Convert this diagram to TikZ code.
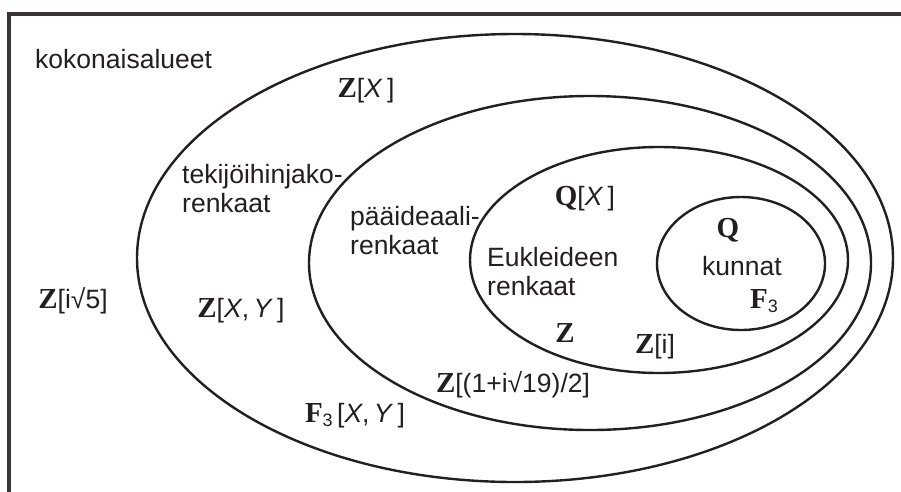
\documentclass[tikz,border=0pt]{standalone}
\usepackage{fontspec}
\setmainfont{Liberation Sans}
\newfontfamily\serifbold{Liberation Serif}
\definecolor{ink}{HTML}{231F20}
\newcommand\Zb{{\serifbold\bfseries\fontsize{29}{30}\selectfont Z}}
\newcommand\Qb{{\serifbold\bfseries\fontsize{29}{30}\selectfont Q}}
\newcommand\Fb{{\serifbold\bfseries\fontsize{29}{30}\selectfont F}}
\newcommand\subthree{\raisebox{-4pt}{\fontsize{18}{20}\selectfont 3}}
\begin{document}
\begin{tikzpicture}[x=1pt,y=-1pt,
  every node/.style={inner sep=0pt,text=ink,font=\fontsize{26.5}{29}\selectfont},
  setline/.style={draw=ink,line width=2.4pt},
  lbl/.style={anchor=base},
  blk/.style={anchor=base west,align=left}]
\useasboundingbox (0,0) rectangle (901,491);
\fill[white] (0,0) rectangle (901,491);
% frame: all integral domains
\draw[draw=ink!90,line width=4pt] (9,520) -- (9,14) -- (930,14);
% nested sets
\draw[setline] (515,258) ellipse [x radius=378,y radius=224];
\draw[setline] (590,263) ellipse [x radius=281,y radius=167];
\draw[setline] (659,260) ellipse [x radius=189,y radius=113];
\draw[setline] (741,263.5) ellipse [x radius=84,y radius=66.5];
% captions (base = baseline of the last line)
\node[blk] (tdom) at (35,68) {kokonaisalueet};
\node[blk] (tufd) at (182,212) {tekijöihinjako-\\renkaat};
\node[blk] (tpid) at (350,254) {pääideaali-\\renkaat};
\node[blk] (teuc) at (487,295) {Eukleideen\\renkaat};
\node[lbl] (tfld) at (742,275) {kunnat};
% examples
\node[lbl] (zx) at (366,97) {\Zb[\textit{X}\,]};
\node[lbl] (qx) at (585,205) {\Qb[\textit{X}\,]};
\node[lbl] (q) at (728,237) {\Qb};
\node[anchor=base west] (f3) at (750,308) {\Fb\subthree};
\node[lbl] (zi) at (655,353) {\Zb[i]};
\node[lbl] (z) at (565,342) {\Zb};
\node[lbl] (zi5) at (73,308) {\Zb[i√5]};
\node[lbl] (zxy) at (241,317) {\Zb[\textit{X},\,\textit{Y}\,]};
\node[lbl] (z19) at (513,392) {\Zb[(1+i√19)/2]};
\node[lbl] (f3xy) at (355,422) {\Fb\subthree\,[\textit{X},\,\textit{Y}\,]};
\end{tikzpicture}
\end{document}
